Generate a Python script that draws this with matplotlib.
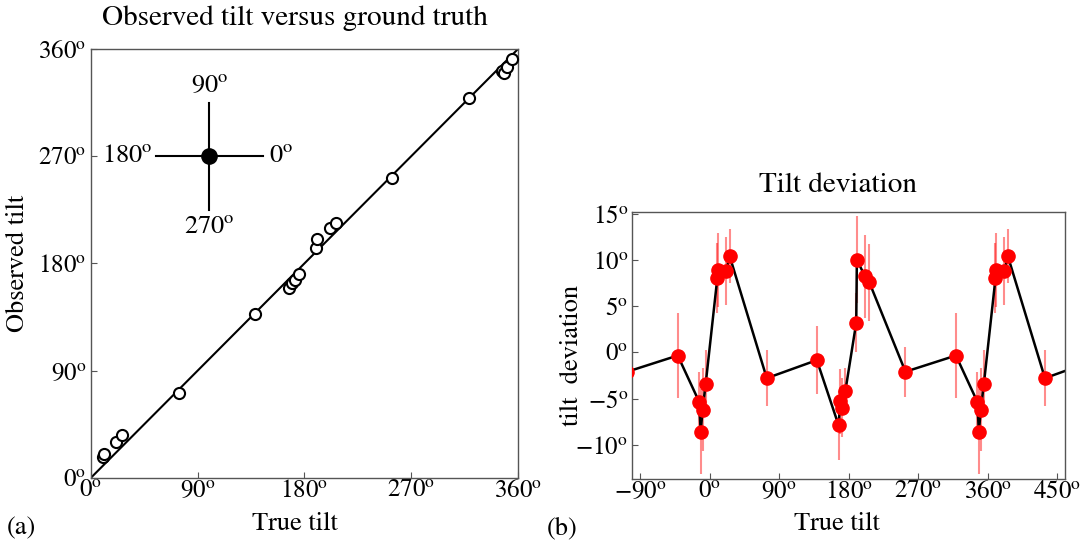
import numpy as np
import matplotlib
matplotlib.use("Agg")
import matplotlib.pyplot as plt
from matplotlib.ticker import FuncFormatter

# measured tilts (degrees) and their deviation from the ground truth
trueTilt = [10.0, 11.3, 21.5, 26.0, 74.0, 138.8, 167.0, 169.2, 172.0, 175.7,
            189.8, 190.6, 201.2, 206.8, 253.5, 318.8, 346.5, 348.5, 351.0, 355.0]
deviation = [8.0, 8.9, 8.8, 10.4, -2.8, -0.85, -7.9, -5.3, -6.0, -4.2,
             3.2, 10.0, 8.2, 7.55, -2.1, -0.35, -5.35, -8.6, -6.2, -3.4]
devError = [3.8, 4.0, 3.7, 2.9, 3.0, 3.7, 3.7, 3.5, 3.2, 2.5,
            3.2, 4.7, 4.5, 4.2, 2.7, 4.6, 3.2, 4.6, 4.5, 3.6]

leftTicks = [0, 90, 180, 270, 360]
rightXTicks = [-90, 0, 90, 180, 270, 360, 450]
rightYTicks = [-10, -5, 0, 5, 10, 15]
compassLabels = ["0", "90", "180", "270"]

plt.rcParams['font.family'] = 'STIXGeneral'
plt.rcParams['mathtext.fontset'] = 'stix'

SPINE = '#555555'


def deg(v, pos=None):
    return r'${:d}^{{\mathrm{{o}}}}$'.format(int(round(v)))


def styleAxes(ax):
    for s in ax.spines.values():
        s.set_color(SPINE)
        s.set_linewidth(1.0)
    ax.tick_params(direction='in', length=4, width=0.8, color=SPINE,
                   labelsize=18, top=False, right=False, pad=1)
    ax.xaxis.set_major_formatter(FuncFormatter(deg))
    ax.yaxis.set_major_formatter(FuncFormatter(deg))


fig = plt.figure(figsize=(10.84, 5.41), dpi=100)

# (a) observed versus true
ax1 = fig.add_axes([0.0837, 0.1165, 0.3942, 0.793])
styleAxes(ax1)
t = np.array(trueTilt)
d = np.array(deviation)
ax1.plot([0, 360], [0, 360], color='black', lw=1.5, zorder=2)
ax1.plot(t, t + d, 'o', ms=8, mfc='white', mec='black', mew=1.5, zorder=3,
         clip_on=False)
ax1.set_xlim(0, 360)
ax1.set_ylim(0, 360)
ax1.set_xticks(leftTicks)
ax1.set_yticks(leftTicks)
ax1.tick_params(axis='y', pad=3)

# compass
cx, cy, arm = 100, 270, 45
ax1.plot([cx - arm, cx + arm], [cy, cy], color='black', lw=1.5)
ax1.plot([cx, cx], [cy - arm, cy + arm], color='black', lw=1.5)
ax1.plot(cx, cy, 'o', color='black', ms=11)
ax1.text(cx + arm + 5, cy, deg(int(compassLabels[0])), ha='left', va='center', fontsize=19)
ax1.text(cx, cy + arm + 4, deg(int(compassLabels[1])), ha='center', va='bottom', fontsize=19)
ax1.text(cx - arm - 3, cy, deg(int(compassLabels[2])), ha='right', va='center', fontsize=19)
ax1.text(cx, cy - arm - 4, deg(int(compassLabels[3])), ha='center', va='top', fontsize=19)

fig.text(295 / 1084, 1 - 18 / 541, "Observed tilt versus ground truth",
         ha='center', va='center', fontsize=21)
fig.text(295 / 1084, 1 - 524 / 541, "True tilt", ha='center', va='center', fontsize=19)
fig.text(18 / 1084, 1 - 263 / 541, "Observed tilt", ha='center', va='center',
         rotation=90, fontsize=19)
fig.text(7 / 1084, 1 - 528 / 541, "(a)", ha='left', va='center', fontsize=19)

# (b) deviation, repeated over neighbouring periods
ax2 = fig.add_axes([0.5833, 0.1146, 0.3992, 0.4941])
styleAxes(ax2)
xs = np.concatenate([t - 360, t, t + 360])
ys = np.concatenate([d, d, d])
es = np.concatenate([devError] * 3)
order = np.argsort(xs)
xs, ys, es = xs[order], ys[order], es[order]
ax2.errorbar(xs, ys, yerr=es, fmt='none', ecolor=(1, 0, 0, 0.45), elinewidth=1.5,
             zorder=1)
ax2.plot(xs, ys, color='black', lw=1.8, zorder=2)
ax2.plot(xs, ys, 'o', color='red', ms=9.5, zorder=3)
ax2.set_xlim(-100, 460)
ax2.set_ylim(-13.7, 15.2)
ax2.set_xticks(rightXTicks)
ax2.set_yticks(rightYTicks)
ax2.tick_params(axis='y', pad=3)

fig.text(838 / 1084, 1 - 185 / 541, "Tilt deviation", ha='center', va='center', fontsize=21)
fig.text(837 / 1084, 1 - 524 / 541, "True tilt", ha='center', va='center', fontsize=19)
fig.text(572 / 1084, 1 - 355 / 541, "tilt  deviation", ha='center', va='center',
         rotation=90, fontsize=19)
fig.text(547 / 1084, 1 - 528 / 541, "(b)", ha='left', va='center', fontsize=19)

fig.savefig("out.png", dpi=100)
